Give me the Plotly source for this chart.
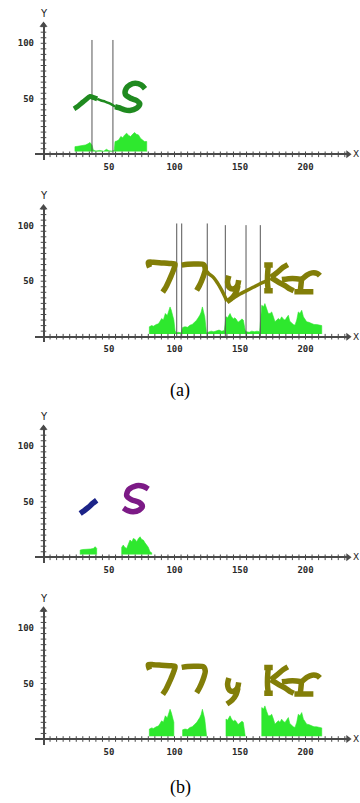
import plotly.graph_objects as go

# ---------------- data ----------------
X_TICK_VALUES = [50, 100, 150, 200]
Y_TICK_VALUES = [50, 100]
MINOR_X = list(range(5, 235, 5))
MINOR_Y = list(range(5, 118, 5))
X_RANGE = [-6.5, 234]
Y_RANGE = [-5, 118]
HIST_BASE = 2.5

# ---- panel (a) top : "~S" ----
P1_CUT_X = [37, 53]
P1_CUT_TOP = 103
P1_TILDE_X = [23.3, 26, 29, 32, 35.5, 38.5, 41]
P1_TILDE_Y = [41, 43, 46, 49, 52, 51, 50]
P1_LINK_X = [41, 44, 47, 50, 52.5, 54.6]
P1_LINK_Y = [50, 48.5, 47.5, 46, 44.5, 43]
P1_S_X = [54.6, 57.5, 62, 66, 71, 73.5, 71, 66.5, 62.5, 63, 66, 70, 74.5, 77.5]
P1_S_Y = [43, 42, 40, 39.5, 41.5, 45.5, 48.5, 50.5, 54, 59, 62.5, 64, 62.5, 59]
P1_HIST_X = [24, 26, 28, 30, 32, 34, 35.5, 37, 38, 40, 43, 46, 48, 50, 52, 54,
             54.6, 56, 57.5, 59, 60.5, 62, 63.5, 65, 66.5, 68, 69.5, 71, 72.5, 74, 75.5, 77, 78.8]
P1_HIST_Y = [6.9, 7.2, 7.5, 7.8, 8.4, 9.5, 10.6, 8.4, 3.9, 3, 3.5, 2.8, 4.5, 3.2, 3, 3.5,
             11.5, 12, 13, 16, 15, 17.5, 19, 17, 16, 18, 19.6, 18, 17.5, 14.5, 13, 11.5, 11.5]

# ---- panel (a) bottom / (b) bottom : "77yKr" ----
P2_CUT_X = [101.7, 105.5, 125, 138.8, 154.6, 165.5]
P2_CUT_TOP = [102, 102, 102, 100.5, 100.5, 100.5]

SEVEN1_X = [81, 80, 84, 90, 96, 100.4, 99.5, 97.5, 96, 94, 92.7, 91]
SEVEN1_Y = [62.5, 67, 67, 66.5, 66, 65.5, 61, 55, 51, 46, 43.2, 40.2]
SEVEN2_X = [105.5, 110, 116, 122, 123.5, 122.5, 120.8, 119, 116.9]
SEVEN2_Y = [64.5, 65.3, 65.5, 65, 61, 56, 50.6, 46, 41.7]
YL_X = [141.5, 140.5, 142, 145, 148, 149]
YL_Y = [55, 49, 44, 43, 46, 51]
YT_X = [148.5, 147, 144, 140]
YT_Y = [46, 40, 35, 31.5]
K_STEM_X = [171.6, 171, 171, 171.6]
K_STEM_Y = [64.5, 55, 48, 41.5]
K_TOP_X = [168.5, 175]
K_TOP_Y = [64.5, 64.5]
K_BOT_X = [168.5, 175]
K_BOT_Y = [41.3, 41.3]
K_ARM_X = [186.5, 183, 178, 173.5]
K_ARM_Y = [65, 62.5, 57.5, 53.5]
K_LEG_X = [173.5, 179, 184.3, 188, 191]
K_LEG_Y = [53.5, 49.5, 46, 43, 41.3]
R_STEM_X = [197, 196.5, 196]
R_STEM_Y = [52, 46, 41]
R_BASE_X = [191.5, 198, 206]
R_BASE_Y = [40.5, 40.5, 40.5]
R_ARM_X = [182, 190, 197, 201, 205, 209, 211]
R_ARM_Y = [51.5, 52.5, 52, 55.5, 57.5, 57, 55]
LINK_7Y_X = [122.5, 126, 130, 133, 136, 138.5, 140]
LINK_7Y_Y = [62, 57, 53, 48, 42, 36, 32]
LINK_YK_X = [140, 145, 150, 155, 160, 165.3, 170]
LINK_YK_Y = [32, 35, 38.5, 41.5, 44.5, 47.7, 50]

G1_X = [80.8, 82.5, 84, 86, 87.7, 89, 90.2, 91.5, 93, 94.5, 95.5, 96.6, 97.5, 98.5, 99.5, 100.4, 101.1]
G1_Y = [8.9, 10, 9.5, 11, 11.6, 14, 16.4, 15, 20.9, 19, 23, 26.8, 24, 18, 15, 5.6, 3.5]
L1_X = [103, 105]
L1_Y = [4, 3.5]
G2_X = [106.2, 108, 110, 111.8, 113.5, 115.5, 117, 119.3, 120.3, 121.3, 122.2, 123.1, 124.4]
G2_Y = [8.3, 9, 8.5, 10.4, 11, 13.4, 15, 19.3, 22, 26.8, 22, 18, 3.6]
L2_X = [126, 128, 130, 132, 134, 136, 138]
L2_Y = [4.5, 5, 4.5, 5.5, 6, 5, 5.5]
G3_X = [139.3, 140.5, 142.4, 143.5, 145, 146, 147, 148.5, 150, 151.5, 152.5, 154]
G3_Y = [18, 17, 20.9, 18, 16, 17, 15.9, 13, 14.4, 16, 15, 5.6]
L3_X = [155, 157, 159, 161, 163, 165]
L3_Y = [4.5, 4, 5, 4.5, 5, 4.5]
G4_X = [166.6, 168, 169, 170.3, 171.6, 173, 174.2, 175.5, 176.7, 178, 179.3, 180.5, 181.8,
        183, 184.4, 185.5, 186.9, 188, 189.4, 190.7, 192, 193.3, 194.5, 195.8, 197.1, 198.4,
        199.5, 200.9, 202.5, 204.7, 206.5, 208.5, 210, 211.1, 212.4]
G4_Y = [28.3, 27, 29.8, 25, 20.9, 21, 22.3, 18, 13.4, 15, 16.4, 15, 17.9,
        16, 14.9, 17, 19.3, 14, 11.9, 11, 10.4, 15, 22.3, 21, 23.8, 17.9,
        16, 13.4, 13, 11.9, 11, 11, 10.4, 10.4, 10]

# ---- panel (b) top : "-" and "S" separated ----
P3_DASH_X = [28, 31, 34.2, 37.5, 40.6]
P3_DASH_Y = [39.5, 42, 45, 48.5, 51.4]
P3_S_X = [61, 64.5, 68.5, 73, 75.5, 73, 67, 63.5, 65, 71, 76, 80]
P3_S_Y = [44.5, 42, 41, 42.5, 46, 49.5, 52, 55.5, 61, 64.5, 64, 61.5]
P3_HL_X = [28, 30, 32, 34, 36, 38, 39.5, 40.6]
P3_HL_Y = [6.5, 7, 7, 7.5, 7.5, 8, 9.5, 8]
P3_HR_X = [59.7, 60.9, 62, 63.5, 65, 66, 67.5, 68.6, 70, 71.1, 72.5, 73.7, 75, 76.2, 77.5,
           78.8, 80, 81.3, 82.6]
P3_HR_Y = [9, 11, 9, 8, 12, 15.5, 14, 17, 16, 14, 17, 18.5, 16, 15.5, 13, 11, 9, 5, 4]

# ---------------- styles ----------------
W, H = 360, 803
X0_PX, SX = 43.5, 1.31
SY = 1.11
AXIS_PY = [154.3, 336.7, 557.3, 739.0]
HIST_COLOR = "#2ee82e"
AXIS_COLOR = "#4a4a4a"
CUT_COLOR = "#555555"
GREEN = "#1f8a1f"
OLIVE = "#827e08"
NAVY = "#1c2488"
PURPLE = "#7c1a86"

fig = go.Figure()


def ax_names(k):
    return ("x" if k == 1 else f"x{k}"), ("y" if k == 1 else f"y{k}")


def stroke(k, xs, ys, color, width):
    xa, ya = ax_names(k)
    fig.add_trace(go.Scatter(x=xs, y=ys, mode="lines", xaxis=xa, yaxis=ya,
                             line=dict(color=color, width=width, shape="spline", smoothing=0.8),
                             hoverinfo="skip", showlegend=False))


def hist(k, xs, ys):
    xa, ya = ax_names(k)
    fig.add_trace(go.Scatter(x=[xs[0]] + list(xs) + [xs[-1]],
                             y=[HIST_BASE] + list(ys) + [HIST_BASE],
                             mode="lines", fill="toself", fillcolor=HIST_COLOR,
                             line=dict(color=HIST_COLOR, width=0.6),
                             xaxis=xa, yaxis=ya, hoverinfo="skip", showlegend=False))


def cuts(k, xs, tops):
    xa, ya = ax_names(k)
    if not isinstance(tops, list):
        tops = [tops] * len(xs)
    lx, ly = [], []
    for v, t in zip(xs, tops):
        lx += [v, v, None]
        ly += [0, t, None]
    fig.add_trace(go.Scatter(x=lx, y=ly, mode="lines", xaxis=xa, yaxis=ya,
                             line=dict(color=CUT_COLOR, width=1),
                             hoverinfo="skip", showlegend=False))


def axis_decor(k):
    xa, ya = ax_names(k)
    fig.add_trace(go.Scatter(x=MINOR_X, y=[0] * len(MINOR_X), mode="markers", xaxis=xa, yaxis=ya,
                             marker=dict(symbol="line-ns", size=4,
                                         line=dict(color=AXIS_COLOR, width=1)),
                             cliponaxis=False, hoverinfo="skip", showlegend=False))
    fig.add_trace(go.Scatter(x=[0] * len(MINOR_Y), y=MINOR_Y, mode="markers", xaxis=xa, yaxis=ya,
                             marker=dict(symbol="line-ew", size=4,
                                         line=dict(color=AXIS_COLOR, width=1)),
                             cliponaxis=False, hoverinfo="skip", showlegend=False))
    fig.add_trace(go.Scatter(x=[X_RANGE[1] - 1.5], y=[0], mode="markers", xaxis=xa, yaxis=ya,
                             marker=dict(symbol="triangle-right", size=7, color=AXIS_COLOR),
                             cliponaxis=False, hoverinfo="skip", showlegend=False))
    fig.add_trace(go.Scatter(x=[0], y=[Y_RANGE[1] - 1.5], mode="markers", xaxis=xa, yaxis=ya,
                             marker=dict(symbol="triangle-up", size=7, color=AXIS_COLOR),
                             cliponaxis=False, hoverinfo="skip", showlegend=False))
    fig.add_annotation(x=0, y=Y_RANGE[1], xref=xa, yref=ya, text="Y", showarrow=False,
                       yshift=10, font=dict(family="DejaVu Sans", size=10, color="#222"))
    fig.add_annotation(x=X_RANGE[1], y=0, xref=xa, yref=ya, text="X", showarrow=False,
                       xanchor="left", xshift=1, font=dict(family="DejaVu Sans", size=9, color="#222"))


# panel 1
hist(1, P1_HIST_X, P1_HIST_Y)
cuts(1, P1_CUT_X, P1_CUT_TOP)
stroke(1, P1_TILDE_X, P1_TILDE_Y, GREEN, 5)
stroke(1, P1_LINK_X, P1_LINK_Y, GREEN, 2.5)
stroke(1, P1_S_X, P1_S_Y, GREEN, 5.5)

# panel 2
hist(2, G1_X + L1_X + G2_X + L2_X + G3_X + L3_X + G4_X,
     G1_Y + L1_Y + G2_Y + L2_Y + G3_Y + L3_Y + G4_Y)
cuts(2, P2_CUT_X, P2_CUT_TOP)
letters = [(SEVEN1_X, SEVEN1_Y), (SEVEN2_X, SEVEN2_Y), (YL_X, YL_Y), (YT_X, YT_Y),
           (K_STEM_X, K_STEM_Y), (K_TOP_X, K_TOP_Y), (K_BOT_X, K_BOT_Y), (K_ARM_X, K_ARM_Y),
           (K_LEG_X, K_LEG_Y), (R_STEM_X, R_STEM_Y), (R_BASE_X, R_BASE_Y), (R_ARM_X, R_ARM_Y)]
for xs, ys in letters:
    stroke(2, xs, ys, OLIVE, 5.5)
stroke(2, LINK_7Y_X, LINK_7Y_Y, OLIVE, 3.5)
stroke(2, LINK_YK_X, LINK_YK_Y, OLIVE, 3.5)

# panel 3
hist(3, P3_HL_X, P3_HL_Y)
hist(3, P3_HR_X, P3_HR_Y)
stroke(3, P3_DASH_X, P3_DASH_Y, NAVY, 5.5)
stroke(3, P3_S_X, P3_S_Y, PURPLE, 5.5)

# panel 4
for gx, gy in [(G1_X[:-2], G1_Y[:-2]), (G2_X, G2_Y), (G3_X, G3_Y), (G4_X, G4_Y)]:
    hist(4, gx, gy)
for xs, ys in letters:
    stroke(4, xs, ys, OLIVE, 5.5)

for k in range(1, 5):
    axis_decor(k)

# ---------------- layout ----------------
layout = dict(width=W, height=H, margin=dict(l=0, r=0, t=0, b=0),
              paper_bgcolor="white", plot_bgcolor="white", showlegend=False)
x_dom = [(X0_PX + X_RANGE[0] * SX) / W, (X0_PX + X_RANGE[1] * SX) / W]
tickfont = dict(family="DejaVu Sans Mono", size=9, color="#2a2a2a", weight="bold")
for k, apy in enumerate(AXIS_PY, start=1):
    bottom_px = apy - Y_RANGE[0] * SY
    top_px = apy - Y_RANGE[1] * SY
    xk = "xaxis" if k == 1 else f"xaxis{k}"
    yk = "yaxis" if k == 1 else f"yaxis{k}"
    xa, ya = ax_names(k)
    layout[xk] = dict(domain=x_dom, range=X_RANGE, anchor=ya, showgrid=False, showline=False,
                      zeroline=True, zerolinecolor=AXIS_COLOR, zerolinewidth=1.5,
                      tickmode="array", tickvals=X_TICK_VALUES, ticks="", tickfont=tickfont,
                      fixedrange=True)
    layout[yk] = dict(domain=[1 - bottom_px / H, 1 - top_px / H], range=Y_RANGE, anchor=xa,
                      showgrid=False, showline=False, zeroline=True, zerolinecolor=AXIS_COLOR,
                      zerolinewidth=1.5, tickmode="array", tickvals=Y_TICK_VALUES, ticks="",
                      tickfont=tickfont, fixedrange=True)
fig.update_layout(**layout)

fig.add_annotation(x=0.5, y=1 - 391 / H, xref="paper", yref="paper", text="(a)", showarrow=False,
                   yanchor="middle", font=dict(family="Liberation Serif", size=18, color="black"))
fig.add_annotation(x=0.5, y=1 - 787 / H, xref="paper", yref="paper", text="(b)", showarrow=False,
                   yanchor="middle", font=dict(family="Liberation Serif", size=18, color="black"))

fig.write_html("out.html", config={"displayModeBar": False},
               post_script="document.body.style.margin='0';"
                           "document.body.style.overflow='hidden';")
